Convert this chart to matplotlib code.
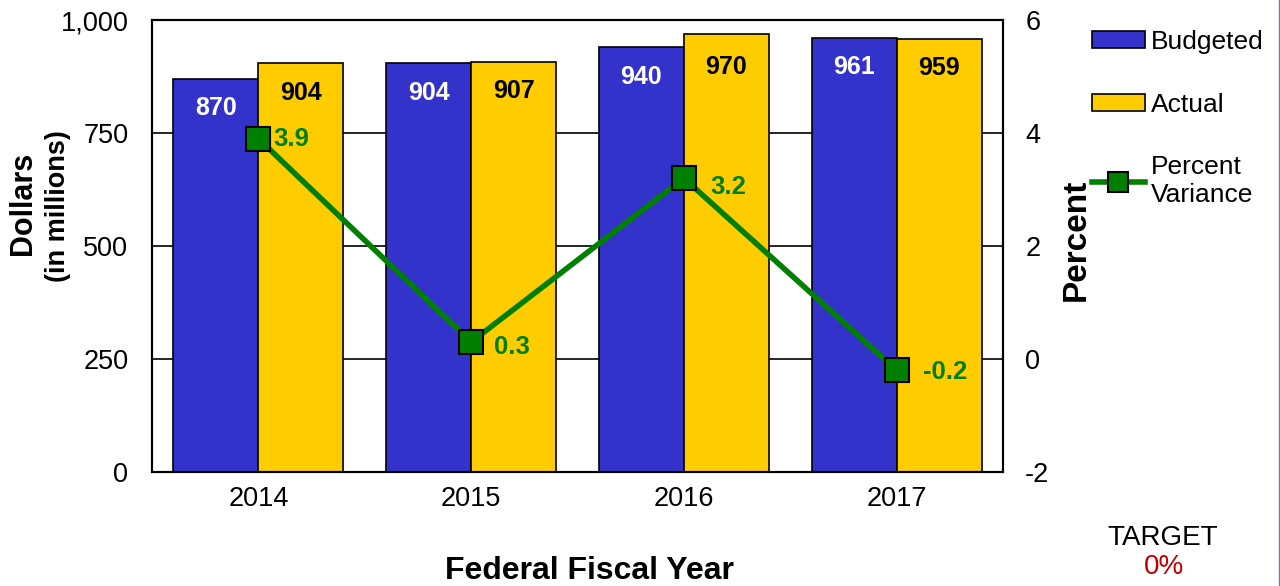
import numpy as np
import matplotlib.pyplot as plt
from matplotlib.lines import Line2D

plt.rcParams['font.family'] = ['Liberation Sans', 'DejaVu Sans']
plt.rcParams['axes.unicode_minus'] = False

years = ['2014', '2015', '2016', '2017']
budgeted = [870, 904, 940, 961]
actual = [904, 907, 970, 959]
pct_var = [3.9, 0.3, 3.2, -0.2]

blue = '#3333CC'
gold = '#FFCC00'
green = '#008000'

fig = plt.figure(figsize=(12.8, 5.86), dpi=100)
ax = fig.add_axes([152/1280, 1 - 472/586, (1003-152)/1280, (472-20)/586])
x = np.arange(len(years))
w = 0.4

ax.set_xlim(-0.5, 3.5)
ax.set_ylim(0, 1000)
ax.set_yticks([0, 250, 500, 750, 1000])
ax.set_yticklabels(['0', '250', '500', '750', '1,000'])
for v in [250, 500, 750]:
    ax.axhline(v, color='black', lw=1.2, zorder=0)

b1 = ax.bar(x - w/2, budgeted, w, color=blue, edgecolor='black', lw=1.2, zorder=2)
b2 = ax.bar(x + w/2, actual, w, color=gold, edgecolor='black', lw=1.2, zorder=2)
for i in range(len(years)):
    ax.text(x[i] - w/2, min(budgeted[i], 960) - 65, str(budgeted[i]), ha='center', va='center',
            color='white', fontsize=18, fontweight='bold', zorder=3)
    ax.text(x[i] + w/2, min(actual[i], 960) - 65, str(actual[i]), ha='center', va='center',
            color='black', fontsize=18, fontweight='bold', zorder=3)

ax.set_xticks(x)
ax.set_xticklabels(years)
ax.tick_params(axis='y', length=0, labelsize=19.5, pad=17)
ax.tick_params(axis='x', length=0, labelsize=19.5, pad=10)
for s in ax.spines.values():
    s.set_linewidth(1.5)

ax2 = ax.twinx()
ax2.set_ylim(-2, 6)
ax2.set_yticks([-2, 0, 2, 4, 6])
ax2.tick_params(axis='y', length=0, labelsize=19.5, pad=16)
ax2.plot(x, pct_var, color=green, lw=4, marker='s', markersize=17,
         markerfacecolor=green, markeredgecolor='black', markeredgewidth=1.5, zorder=4)
offs = [(15, 0), (23, -5), (26, -9), (26, -2)]
for i in range(len(years)):
    ax2.annotate('%.1f' % pct_var[i], (x[i], pct_var[i]), xytext=offs[i], textcoords='offset pixels',
                 ha='left', va='center', color=green, fontsize=18.5, fontweight='bold')
for s in ax2.spines.values():
    s.set_linewidth(1.5)

fig.text(23/1280, 1 - 203/586, 'Dollars', rotation=90, ha='center', va='center', fontsize=22, fontweight='bold')
fig.text(58/1280, 1 - 206/586, '(in millions)', rotation=90, ha='center', va='center', fontsize=19.5, fontweight='bold')
fig.text(1076/1280, 1 - 240/586, 'Percent', rotation=90, ha='center', va='center', fontsize=24, fontweight='bold')
fig.text(589/1280, 1 - 571/586, 'Federal Fiscal Year', ha='center', va='center', fontsize=23, fontweight='bold')
fig.text(1163/1280, 1 - 538/586, 'TARGET', ha='center', va='center', fontsize=20)
fig.text(1164/1280, 1 - 567/586, '0%', ha='center', va='center', fontsize=20, color='#C00000')

leg_line = Line2D([], [], color=green, lw=4, marker='s', markersize=14,
                  markerfacecolor=green, markeredgecolor='black', markeredgewidth=1.5)
fig.legend([b1, b2, leg_line], ['Budgeted', 'Actual', 'Percent\nVariance'], loc='upper left',
           bbox_to_anchor=(1068/1280, 1 - 6/586), frameon=False, fontsize=19,
           labelspacing=1.47, handlelength=2.0, handletextpad=0.25, handleheight=0.6)

fig.add_artist(Line2D([1279/1280, 1279/1280], [0, 1], color='#7777CC', lw=1))

fig.savefig('out.png', dpi=100)
